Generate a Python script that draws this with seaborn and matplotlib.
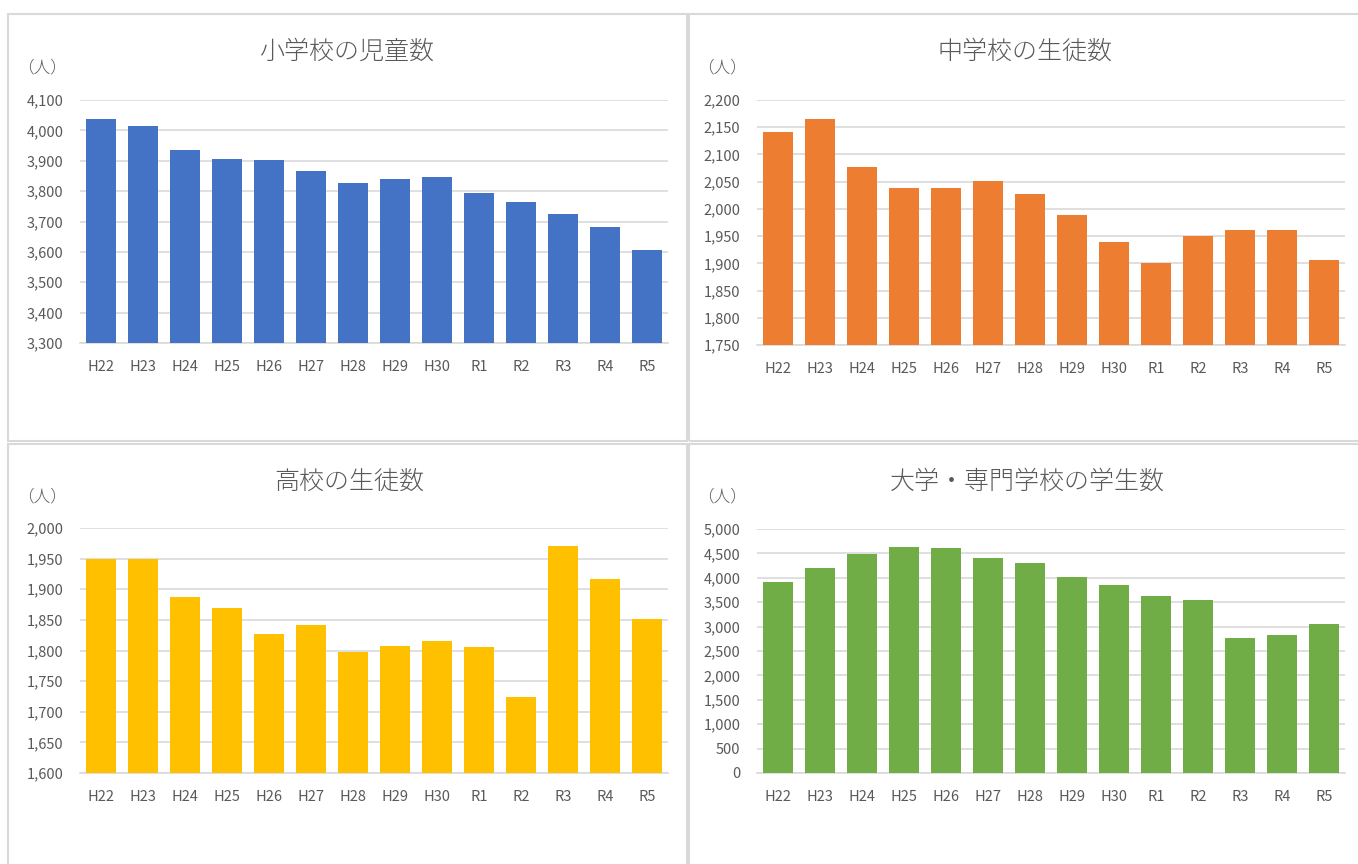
import matplotlib
matplotlib.use("Agg")
import matplotlib.pyplot as plt
import seaborn as sns
import pandas as pd
from matplotlib.patches import Rectangle
from matplotlib.ticker import FuncFormatter, FixedLocator

sns.set_theme(style="white")
plt.rcParams['font.family'] = ['Noto Sans CJK JP', 'DejaVu Sans']

years = ["H22", "H23", "H24", "H25", "H26", "H27", "H28", "H29", "H30", "R1", "R2", "R3", "R4", "R5"]

elementary = [4038, 4013, 3936, 3907, 3902, 3867, 3826, 3839, 3845, 3795, 3764, 3724, 3683, 3605]
junior_high = [2142, 2165, 2077, 2039, 2039, 2051, 2028, 1988, 1939, 1900, 1951, 1962, 1962, 1907]
high_school = [1950, 1949, 1888, 1869, 1827, 1841, 1797, 1807, 1816, 1805, 1724, 1970, 1916, 1852]
university = [3905, 4197, 4490, 4626, 4619, 4408, 4313, 4020, 3844, 3633, 3537, 2776, 2837, 3048]

titles = ["小学校の児童数", "中学校の生徒数", "高校の生徒数", "大学・専門学校の学生数"]
colors = ["#4472C4", "#ED7D31", "#FFC000", "#70AD47"]
ylims = [(3300, 4100, 100), (1750, 2200, 50), (1600, 2000, 50), (0, 5000, 500)]
series = [elementary, junior_high, high_school, university]

W, H = 1358, 864
fig = plt.figure(figsize=(W / 100, H / 100), dpi=100)
fig.patch.set_facecolor("white")

# panel borders (pixel coords: x0, y0, x1, y1)
borders = [(8, 14, 687, 441), (689, 14, 1362, 441), (8, 444, 687, 868), (689, 444, 1362, 868)]
for x0, y0, x1, y1 in borders:
    fig.add_artist(Rectangle((x0 / W, 1 - y1 / H), (x1 - x0) / W, (y1 - y0) / H,
                             transform=fig.transFigure, fill=False,
                             edgecolor="#D9D9D9", linewidth=1.5, zorder=0))

# axes areas (pixel coords: left, top, right, bottom)
areas = [(80, 100, 668, 343), (757, 100, 1345, 345), (80, 528, 668, 773), (757, 529, 1345, 773)]
title_pos = [(347, 52), (1025, 52), (349, 482), (1027, 482)]
unit_pos = [(42, 68), (722, 68), (42, 497), (722, 497)]

txt = "#595959"
for i in range(4):
    l, t, r, b = areas[i]
    ax = fig.add_axes([l / W, 1 - b / H, (r - l) / W, (b - t) / H])
    df = pd.DataFrame({"year": years, "value": series[i]})
    sns.barplot(data=df, x="year", y="value", color=colors[i], saturation=1,
                width=0.72, linewidth=0, ax=ax, zorder=3)
    lo, hi, step = ylims[i]
    ax.set_ylim(lo, hi)
    ticks = list(range(lo, hi + 1, step))
    ax.yaxis.set_major_locator(FixedLocator(ticks))
    ax.yaxis.set_major_formatter(FuncFormatter(lambda v, p: f"{int(v):,}"))
    ax.set_xlim(-0.5, 13.5)
    ax.grid(axis="y", color="#D9D9D9", linewidth=1.2, zorder=0)
    ax.set_axisbelow(True)
    for s in ["top", "right", "left"]:
        ax.spines[s].set_visible(False)
    ax.spines["bottom"].set_color("#D9D9D9")
    ax.spines["bottom"].set_linewidth(1.2)
    ax.set_xlabel("")
    ax.set_ylabel("")
    ax.tick_params(axis="both", length=0, colors=txt, labelsize=10.5)
    ax.tick_params(axis="y", pad=12)
    ax.tick_params(axis="x", pad=12)
    ax.set_facecolor("white")
    tx, ty = title_pos[i]
    fig.text(tx / W, 1 - ty / H, titles[i], ha="center", va="center",
             fontsize=18, color=txt, fontweight="light")
    ux, uy = unit_pos[i]
    fig.text(ux / W, 1 - uy / H, "（人）", ha="center", va="center",
             fontsize=12, color=txt, fontweight="light")

fig.savefig("out.png", dpi=100, facecolor="white")
